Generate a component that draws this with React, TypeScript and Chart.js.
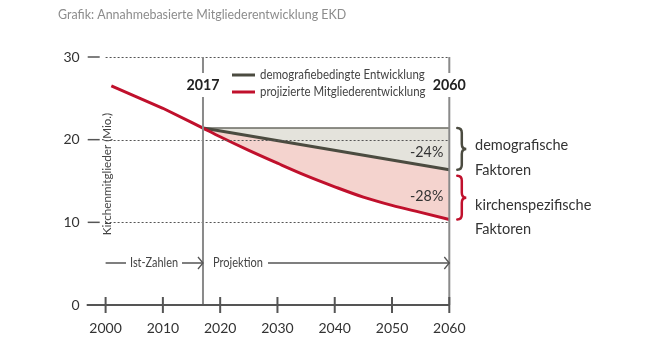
import React, { useEffect, useRef } from "react";
import { Chart, registerables } from "chart.js";

Chart.register(...registerables);

const titleText = "Grafik: Annahmebasierte Mitgliederentwicklung EKD";
const yAxisTitle = "Kirchenmitglieder (Mio.)";

const histYears = [2001, 2005, 2010, 2015, 2017];
const histValues = [26.5, 25.3, 23.8, 22.1, 21.4];

const projYears = [2017, 2020, 2025, 2030, 2035, 2040, 2045, 2050, 2055, 2060];
const projValues = [21.4, 20.35, 18.7, 17.15, 15.65, 14.3, 13.05, 12.05, 11.2, 10.35];

const demoYears = [2017, 2060];
const demoValues = [21.4, 16.35];
const baseValues = [21.4, 21.4];

const xTicks = [2000, 2010, 2020, 2030, 2040, 2050, 2060];
const yTicks = [0, 10, 20, 30];
const gridValues = [10, 20, 30];

const startYear = 2017;
const endYear = 2060;
const demoPct = "-24%";
const kirchePct = "-28%";

const legendLabels = ["demografiebedingte Entwicklung", "projizierte Mitgliederentwicklung"];
const factorLabels = [["demografische", "Faktoren"], ["kirchenspezifische", "Faktoren"]];
const phaseLabels = ["Ist-Zahlen", "Projektion"];

const RED = "#c0102c";
const DARK = "#4b4b40";
const FONT = "Lato, 'Noto Sans', sans-serif";

const pts = (xs: number[], ys: number[]) => xs.map((x, i) => ({ x, y: ys[i] }));

function textN(ctx: CanvasRenderingContext2D, t: string, x: number, y: number, sx: number) {
  ctx.save();
  ctx.translate(x, y);
  ctx.scale(sx, 1);
  ctx.fillText(t, 0, 0);
  ctx.restore();
}

function brace(ctx: CanvasRenderingContext2D, a: number, b: number, y1: number, y2: number, color: string) {
  const c = (a + b) / 2;
  const m = (y1 + y2) / 2;
  const r = 5;
  ctx.save();
  ctx.strokeStyle = color;
  ctx.lineWidth = 2.5;
  ctx.lineCap = "round";
  ctx.beginPath();
  ctx.moveTo(a, y1);
  ctx.quadraticCurveTo(c, y1, c, y1 + r);
  ctx.lineTo(c, m - r);
  ctx.quadraticCurveTo(c, m, b, m);
  ctx.quadraticCurveTo(c, m, c, m + r);
  ctx.lineTo(c, y2 - r);
  ctx.quadraticCurveTo(c, y2, a, y2);
  ctx.stroke();
  ctx.restore();
}

function chevron(ctx: CanvasRenderingContext2D, x: number, y: number) {
  ctx.beginPath();
  ctx.moveTo(x - 5, y - 6);
  ctx.lineTo(x, y);
  ctx.lineTo(x - 5, y + 6);
  ctx.stroke();
}

const overlay = {
  id: "overlay",
  afterDatasetsDraw(chart: any) {
    const ctx: CanvasRenderingContext2D = chart.ctx;
    const xs = chart.scales.x;
    const ys = chart.scales.y;
    const X = (v: number) => xs.getPixelForValue(v);
    const Y = (v: number) => ys.getPixelForValue(v);
    const x0 = X(2000);
    const xEnd = X(endYear);
    const axisY = Y(0);
    const axisLeft = chart.chartArea.left;

    ctx.save();
    // dotted gridlines
    ctx.strokeStyle = "#555";
    ctx.lineWidth = 1;
    ctx.setLineDash([2, 2]);
    gridValues.forEach((v) => {
      ctx.beginPath();
      ctx.moveTo(x0, Math.round(Y(v)) + 0.5);
      ctx.lineTo(xEnd, Math.round(Y(v)) + 0.5);
      ctx.stroke();
    });
    ctx.setLineDash([]);

    // vertical markers 2017 / 2060
    ctx.strokeStyle = "#8a8a8a";
    ctx.lineWidth = 2;
    [startYear, endYear].forEach((yr) => {
      const x = X(yr);
      ctx.beginPath();
      ctx.moveTo(x, Y(30));
      ctx.lineTo(x, Y(30) + 16);
      ctx.moveTo(x, Y(30) + 40);
      ctx.lineTo(x, axisY);
      ctx.stroke();
    });

    // y ticks
    ctx.strokeStyle = "#555";
    ctx.lineWidth = 1.5;
    ctx.fillStyle = "#333";
    ctx.font = `14px ${FONT}`;
    ctx.textAlign = "right";
    ctx.textBaseline = "middle";
    yTicks.forEach((v) => {
      const y = Y(v);
      if (v > 0) {
        ctx.beginPath();
        ctx.moveTo(axisLeft + 1, y);
        ctx.lineTo(axisLeft + 13, y);
        ctx.stroke();
      }
      ctx.fillText(String(v), axisLeft - 7, y);
    });

    // x axis
    ctx.lineWidth = 2;
    ctx.beginPath();
    ctx.moveTo(axisLeft, axisY);
    ctx.lineTo(xEnd, axisY);
    ctx.stroke();
    ctx.textAlign = "center";
    ctx.textBaseline = "middle";
    xTicks.forEach((v) => {
      const x = X(v);
      ctx.beginPath();
      ctx.moveTo(x, axisY - 8);
      ctx.lineTo(x, axisY + 8);
      ctx.stroke();
      ctx.fillText(String(v), x, axisY + 23);
    });

    // y axis title
    ctx.save();
    ctx.translate(X(2000) + 2, 174);
    ctx.rotate(-Math.PI / 2);
    ctx.font = `12px ${FONT}`;
    ctx.fillStyle = "#444";
    ctx.textAlign = "center";
    ctx.textBaseline = "middle";
    ctx.scale(0.97, 1);
    ctx.fillText(yAxisTitle, 0, 0);
    ctx.restore();

    // year labels
    ctx.font = `bold 15px ${FONT}`;
    ctx.fillStyle = "#222";
    ctx.textAlign = "center";
    textN(ctx, String(startYear), X(startYear), Y(30) + 28, 0.95);
    textN(ctx, String(endYear), X(endYear), Y(30) + 28, 0.95);

    // legend
    const lgX = 232;
    const lgY = [75, 92];
    [DARK, RED].forEach((col, i) => {
      ctx.strokeStyle = col;
      ctx.lineWidth = 3;
      ctx.beginPath();
      ctx.moveTo(lgX, lgY[i]);
      ctx.lineTo(lgX + 23, lgY[i]);
      ctx.stroke();
    });
    ctx.font = `13px ${FONT}`;
    ctx.fillStyle = "#444";
    ctx.textAlign = "left";
    legendLabels.forEach((t, i) => textN(ctx, t, 260, lgY[i], 0.88));

    // percentages
    ctx.font = `15px ${FONT}`;
    ctx.fillStyle = "#333";
    ctx.textAlign = "right";
    textN(ctx, demoPct, xEnd - 6, 152, 0.95);
    textN(ctx, kirchePct, xEnd - 6, 196, 0.95);

    // braces
    brace(ctx, xEnd + 8, xEnd + 17, Y(baseValues[1]), Y(demoValues[1]), "#4b4b40");
    brace(ctx, xEnd + 8, xEnd + 17, Y(demoValues[1]) + 6, Y(projValues[projValues.length - 1]), RED);

    ctx.font = `15px ${FONT}`;
    ctx.fillStyle = "#333";
    ctx.textAlign = "left";
    textN(ctx, factorLabels[0][0], 475, 145, 0.97);
    textN(ctx, factorLabels[0][1], 475, 170, 0.97);
    textN(ctx, factorLabels[1][0], 475, 205, 0.97);
    textN(ctx, factorLabels[1][1], 475, 229, 0.97);

    // phase arrows
    const ay = 263;
    ctx.strokeStyle = "#555";
    ctx.lineWidth = 1.3;
    ctx.font = `13px ${FONT}`;
    ctx.fillStyle = "#444";
    ctx.textAlign = "left";
    const xs17 = X(startYear);
    ctx.beginPath();
    ctx.moveTo(x0, ay);
    ctx.lineTo(126, ay);
    ctx.moveTo(182, ay);
    ctx.lineTo(xs17, ay);
    ctx.stroke();
    chevron(ctx, xs17, ay);
    textN(ctx, phaseLabels[0], 130, ay, 0.84);
    ctx.beginPath();
    ctx.moveTo(268, ay);
    ctx.lineTo(xEnd, ay);
    ctx.stroke();
    chevron(ctx, xEnd, ay);
    textN(ctx, phaseLabels[1], 213, ay, 0.85);

    // title
    ctx.font = `13px ${FONT}`;
    ctx.fillStyle = "#8c8c8c";
    ctx.textAlign = "left";
    textN(ctx, titleText, 58, 15, 0.957);
    ctx.restore();
  },
};

export default function App() {
  const ref = useRef<HTMLCanvasElement | null>(null);
  useEffect(() => {
    if (!ref.current) return;
    const chart = new Chart(ref.current, {
      type: "line",
      data: {
        datasets: [
          {
            label: "hist",
            data: pts(histYears, histValues),
            borderColor: RED,
            borderWidth: 3,
            pointRadius: 0,
            fill: false,
            clip: false,
          },
          {
            label: legendLabels[1],
            data: pts(projYears, projValues),
            borderColor: RED,
            borderWidth: 3,
            pointRadius: 0,
            cubicInterpolationMode: "monotone",
            fill: false,
            clip: false,
          },
          {
            label: legendLabels[0],
            data: pts(demoYears, demoValues),
            borderColor: DARK,
            borderWidth: 3,
            pointRadius: 0,
            fill: 1,
            backgroundColor: "#f4d3ce",
            clip: false,
          },
          {
            label: "base",
            data: pts(demoYears, baseValues),
            borderColor: "#6a6a62",
            borderWidth: 1.5,
            pointRadius: 0,
            fill: 2,
            backgroundColor: "#e4e3dc",
            clip: false,
          },
        ],
      } as any,
      options: {
        responsive: false,
        animation: false,
        layout: { padding: { left: 86.7, right: 650 - 449.3, top: 57, bottom: 356 - 305 } },
        scales: {
          x: { type: "linear", min: 1996.7, max: 2060, display: false },
          y: { min: 0, max: 30, display: false },
        },
        plugins: { legend: { display: false }, tooltip: { enabled: false } },
      } as any,
      plugins: [overlay],
    });
    return () => chart.destroy();
  }, []);
  return (
    <div style={{ position: "fixed", left: 0, top: 0, width: 650, height: 356, background: "#fff" }}>
      <canvas ref={ref} width={650} height={356} style={{ width: 650, height: 356 }} />
    </div>
  );
}
